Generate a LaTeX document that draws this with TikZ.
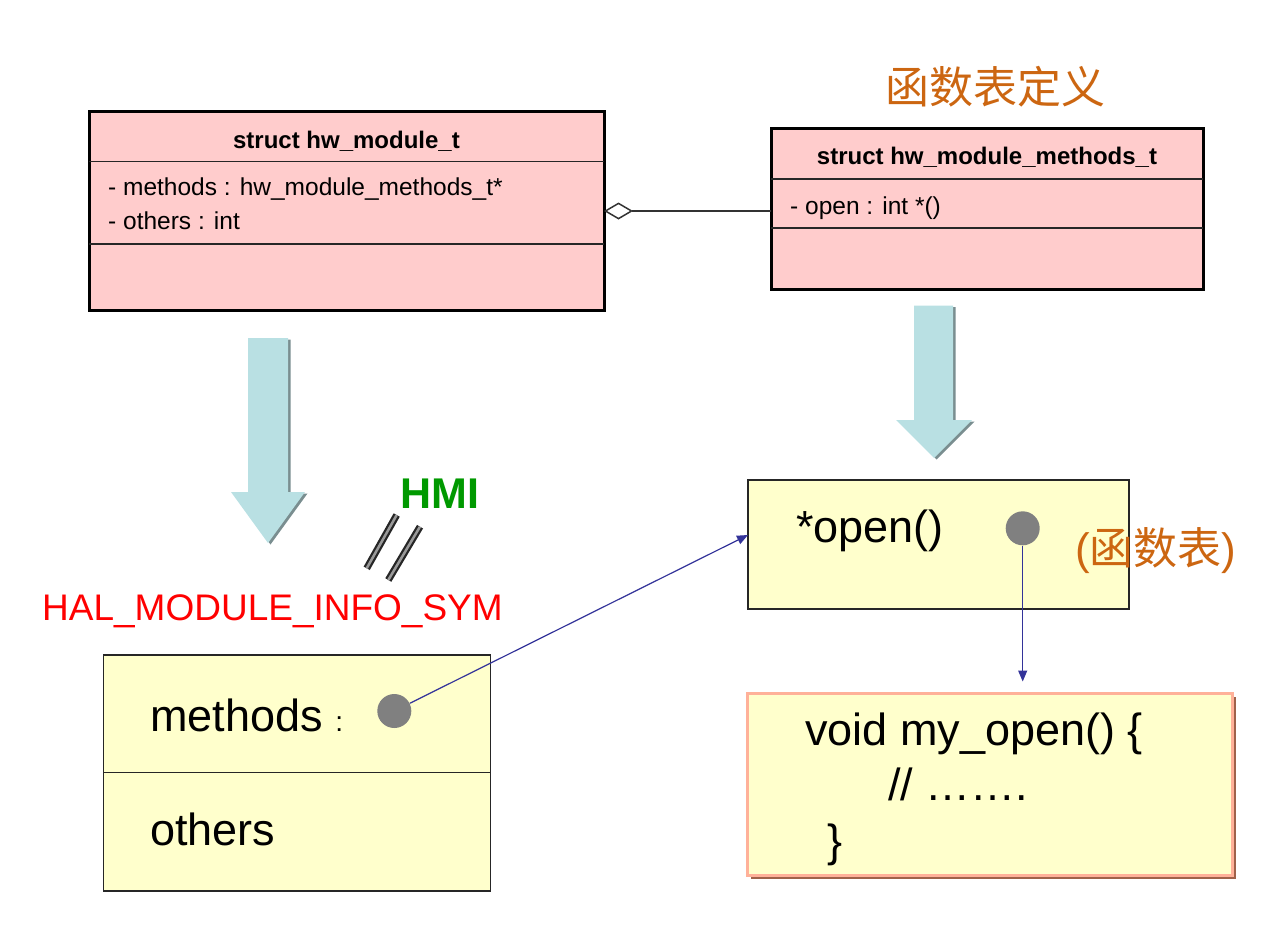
\documentclass[tikz,border=0pt]{standalone}
\usepackage{fontspec}
\setmainfont{Liberation Sans}
\newfontfamily\cjk{Noto Sans CJK SC}
\usetikzlibrary{arrows.meta,shadows}
\definecolor{pinkfill}{HTML}{FFCCCC}
\definecolor{yel}{HTML}{FFFFCC}
\definecolor{arrowcyan}{HTML}{B9E0E3}
\definecolor{arrowshade}{HTML}{7A8E90}
\definecolor{orangetxt}{HTML}{CC6611}
\definecolor{hmigreen}{HTML}{009900}
\definecolor{navy}{HTML}{333399}
\definecolor{dotgray}{HTML}{808080}
\definecolor{salmonline}{HTML}{FFB199}
\definecolor{brownshade}{HTML}{A0624A}
\newcommand{\setfs}[1]{\fontsize{#1}{#1}\selectfont}
\begin{document}
\begin{tikzpicture}[x=1pt,y=-1pt,
  umlbox/.style={draw=black, line width=3pt, fill=pinkfill, inner sep=0pt, outer sep=0pt},
  membox/.style={draw=black!85, line width=1.4pt, fill=yel, inner sep=0pt, outer sep=0pt},
  sepline/.style={draw=black!85, line width=1.5pt},
  utitle/.style={inner sep=0pt, anchor=base, font=\setfs{24}\bfseries},
  uattr/.style={inner sep=0pt, anchor=base west, font=\setfs{24.5}},
  bigtxt/.style={inner sep=0pt, anchor=base west, font=\setfs{45}},
  dotnode/.style={circle, fill=dotgray, minimum size=34pt, inner sep=0pt},
  conn/.style={draw=navy, line width=1.2pt, -{Triangle[length=11pt,width=9pt]}},
  agg/.style={draw=black!80, line width=1.5pt, {Diamond[fill=white,length=29pt,width=17pt]}-},
  bigarrow/.style={fill=arrowcyan},
  bigshade/.style={fill=arrowshade},
  slashout/.style={line width=7pt, draw=black!85},
  slashin/.style={line width=2.5pt, draw=black!40},
]
\useasboundingbox (0,0) rectangle (1280,930);

% heading
\node[inner sep=0pt, font=\cjk\setfs{44}, text=orangetxt] (head) at (995,87) {函数表定义};

% UML box 1
\node[umlbox, minimum width=515pt, minimum height=199pt] (b1) at (346.5,211) {};
\draw[sepline] (b1.west |- 0,161.7) -- (b1.east |- 0,161.7);
\draw[sepline] (b1.west |- 0,244) -- (b1.east |- 0,244);
\node[utitle] (b1t) at (346.5,148) {struct hw\_module\_t};
\node[uattr] (b1a) at (108,195) {- methods : hw\_module\_methods\_t*};
\node[uattr] (b1b) at (108,229) {- others : int};

% UML box 2
\node[umlbox, minimum width=432pt, minimum height=161pt] (b2) at (987,208.5) {};
\draw[sepline] (b2.west |- 0,179) -- (b2.east |- 0,179);
\draw[sepline] (b2.west |- 0,228) -- (b2.east |- 0,228);
\node[utitle] (b2t) at (987,164) {struct hw\_module\_methods\_t};
\node[uattr] (b2a) at (790,214) {- open : int *()};

% aggregation
\draw[agg] (b1.east) -- (b2.west |- b1.east);

% big arrows
\fill[bigshade, shift={(2.5,1.5)}] (248,338) -- (288,338) -- (288,492) -- (305,492) -- (268,543) -- (231,492) -- (248,492) -- cycle;
\fill[bigarrow] (248,338) -- (288,338) -- (288,492) -- (305,492) -- (268,543) -- (231,492) -- (248,492) -- cycle;
\fill[bigshade, shift={(2.5,1.5)}] (914,305.5) -- (953,305.5) -- (953,420) -- (972,420) -- (934,458) -- (896,420) -- (914,420) -- cycle;
\fill[bigarrow] (914,305.5) -- (953,305.5) -- (953,420) -- (972,420) -- (934,458) -- (896,420) -- (914,420) -- cycle;

% HMI and slashes
\node[inner sep=0pt, anchor=base west, font=\setfs{43}\bfseries, text=hmigreen] (hmi) at (400,508) {HMI};
\draw[slashout] (396.7,515) -- (366.7,568.3);
\draw[slashin] (396.7,515) -- (366.7,568.3);
\draw[slashout] (420,526.7) -- (388.3,580);
\draw[slashin] (420,526.7) -- (388.3,580);
\node[inner sep=0pt, anchor=base west, font=\setfs{37}, text=red] (hal) at (42,620) {HAL\_MODULE\_INFO\_SYM};

% box 3
\node[membox, minimum width=387pt, minimum height=236pt] (b3) at (297,773) {};
\draw[sepline] (b3.west |- 0,772.7) -- (b3.east |- 0,772.7);
\node[bigtxt] (b3a) at (150,731) {methods {\setfs{28}:}};
\node[bigtxt] (b3b) at (150,845) {others};
\node[dotnode] (d1) at (394.3,711) {};

% box 4
\node[membox, minimum width=381pt, minimum height=129pt] (b4) at (938.5,544.5) {};
\node[bigtxt] (b4a) at (796,542) {*open()};
\node[dotnode] (d2) at (1022.7,528.3) {};
\node[inner sep=0pt, anchor=base west, font=\setfs{44}, text=orangetxt] (tbl) at (1075,564) {({\cjk 函数表})};

% box 5
\node[draw=salmonline, line width=3pt, fill=yel, inner sep=0pt, minimum width=485pt, minimum height=182pt,
  drop shadow={shadow xshift=4pt, shadow yshift=-4pt, fill=brownshade, opacity=1}] (b5) at (989.5,784) {};
\node[bigtxt] (b5a) at (805,745) {void my\_open() \{};
\node[bigtxt] (b5b) at (888,800) {// …….};
\node[bigtxt] (b5c) at (827,856) {\}};

% connectors
\draw[conn] (d1) -- (b4.west |- 0,535);
\draw[conn, shorten >=10pt] (d2) -- (d2 |- b5.north);
\end{tikzpicture}
\end{document}
